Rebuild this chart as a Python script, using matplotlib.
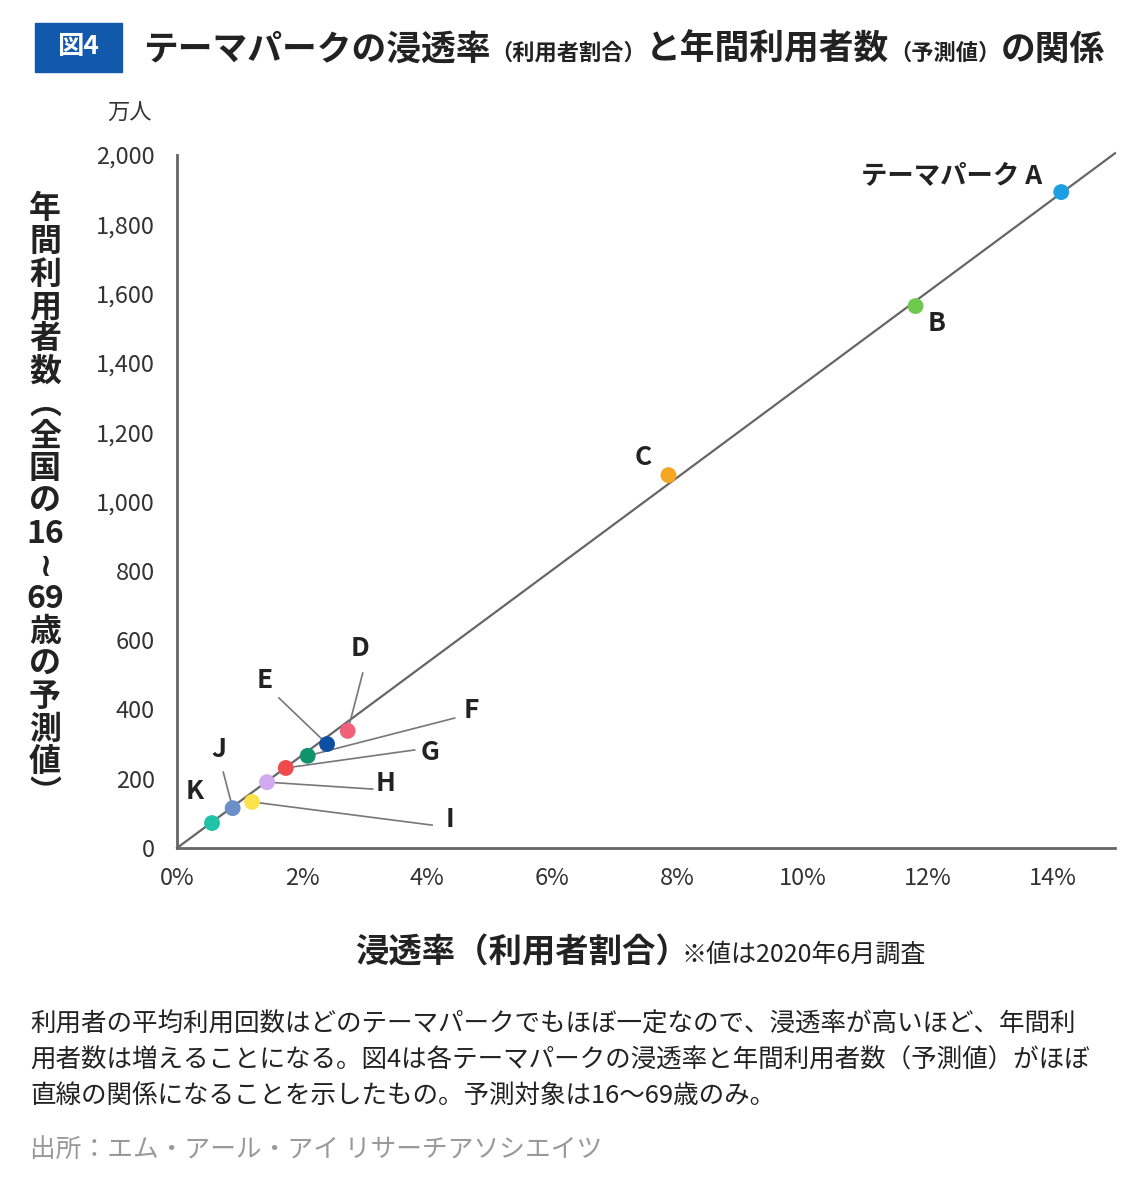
import numpy as np
import matplotlib
matplotlib.use("Agg")
from matplotlib import pyplot as plt
from matplotlib.patches import Rectangle

plt.rcParams['font.family'] = ['Noto Sans CJK JP', 'DejaVu Sans']

# data
parks = ['テーマパーク A', 'B', 'C', 'D', 'E', 'F', 'G', 'H', 'I', 'J', 'K']
rate = [14.14, 11.81, 7.86, 2.73, 2.40, 2.09, 1.74, 1.44, 1.20, 0.89, 0.56]   # %
users = [1893, 1564, 1076, 338, 300, 266, 231, 190, 133, 115, 72]            # 万人
trend_x = [0, 15]
trend_y = [0, 2005]
xticks = [0, 2, 4, 6, 8, 10, 12, 14]
yticks = [0, 200, 400, 600, 800, 1000, 1200, 1400, 1600, 1800, 2000]

colors = ['#1a9fe3', '#6cc94e', '#f5a623', '#f0607a', '#0d4fa0', '#10936b',
          '#ef4b4b', '#d2a8f0', '#fbe24a', '#6d8fc7', '#1fc4a8']

# label position and leader start (data coords), None = no leader
label_pos = [(13.84, 1939), (12.15, 1515), (7.45, 1128), (2.92, 577), (1.41, 482),
             (4.70, 398), (4.04, 277), (3.34, 185), (4.36, 81), (0.67, 283), (0.29, 162)]
leader_start = [None, None, None, (2.97, 505), (1.63, 433), (4.44, 375), (3.80, 283),
                (3.13, 170), (4.08, 66), (0.74, 219), None]

W, H = 1140, 1192
fig = plt.figure(figsize=(W / 100, H / 100), dpi=100)

def fx(px):
    return px / W

def fy(py):
    return 1 - py / H

ax = fig.add_axes([fx(177), fy(848), fx(1115) - fx(177), fy(155) - fy(848)])
ax.set_xlim(0, 15)
ax.set_ylim(0, 2000)
for s in ['top', 'right']:
    ax.spines[s].set_visible(False)
for s in ['left', 'bottom']:
    ax.spines[s].set_color('#666666')
    ax.spines[s].set_linewidth(2)
ax.set_xticks(xticks)
ax.set_xticklabels([f'{v}%' for v in xticks])
ax.set_yticks(yticks)
ax.set_yticklabels([f'{v:,}' for v in yticks])
ax.tick_params(length=0, labelsize=17, colors='#333333')
ax.tick_params(axis='x', pad=14)
ax.tick_params(axis='y', pad=16)

ax.plot(trend_x, trend_y, color='#666666', lw=1.6, zorder=1, clip_on=False)

for i in range(len(parks)):
    if leader_start[i] is not None:
        ax.plot([leader_start[i][0], rate[i]], [leader_start[i][1], users[i]],
                color='#777777', lw=1.2, zorder=2)
ax.scatter(rate, users, s=130, c=colors, zorder=3, edgecolors='none')

for i, name in enumerate(parks):
    lx, ly = label_pos[i]
    ha = 'right' if i == 0 else 'center'
    ax.text(lx, ly, name, ha=ha, va='center', fontsize=19, fontweight='bold',
            color='#222222')

# title
fig.patches.append(Rectangle((fx(35), fy(72)), fx(122) - fx(35), fy(23) - fy(72),
                             transform=fig.transFigure, color='#1059ab', zorder=0))
fig.text(fx(78), fy(47), '図4', ha='center', va='center', fontsize=19,
         fontweight='bold', color='white')

fig.canvas.draw()
renderer = fig.canvas.get_renderer()
title_parts = [('テーマパークの浸透率', 25), ('（利用者割合）', 16), ('と年間利用者数', 25),
               ('（予測値）', 16), ('の関係', 25)]
x = fx(143)
for txt, size in title_parts:
    t = fig.text(x, fy(60), txt, ha='left', va='baseline', fontsize=size,
                 fontweight='bold', color='#222222')
    bb = t.get_window_extent(renderer)
    x += bb.width / W

# y unit and y label
fig.text(fx(130), fy(113), '万人', ha='center', va='center', fontsize=16, color='#333333')
ylab_rows = ['年', '間', '利', '用', '者', '数', '︵', '全', '国', 'の', '16', '≀', '69',
             '歳', 'の', '予', '測', '値', '︶']
fig.text(fx(45), fy(502), '\n'.join(ylab_rows), ha='center', va='center', fontsize=23,
         fontweight='bold', color='#222222', linespacing=1.02, multialignment='center')

# x label
t = fig.text(fx(355), fy(962), '浸透率（利用者割合）', ha='left', va='baseline',
             fontsize=24, fontweight='bold', color='#222222')
bb = t.get_window_extent(renderer)
fig.text(fx(355) + bb.width / W - 0.006, fy(962), '※値は2020年6月調査', ha='left',
         va='baseline', fontsize=18, color='#222222')

# caption
caption = ['利用者の平均利用回数はどのテーマパークでもほぼ一定なので、浸透率が高いほど、年間利',
           '用者数は増えることになる。図4は各テーマパークの浸透率と年間利用者数（予測値）がほぼ',
           '直線の関係になることを示したもの。予測対象は16〜69歳のみ。']
for k, line in enumerate(caption):
    fig.text(fx(30), fy(1025 + k * 35.5), line, ha='left', va='center', fontsize=18.4,
             color='#222222')
fig.text(fx(30), fy(1150), '出所：エム・アール・アイ リサーチアソシエイツ', ha='left',
         va='center', fontsize=18.5, color='#999999')

fig.savefig('out.png', dpi=100)
